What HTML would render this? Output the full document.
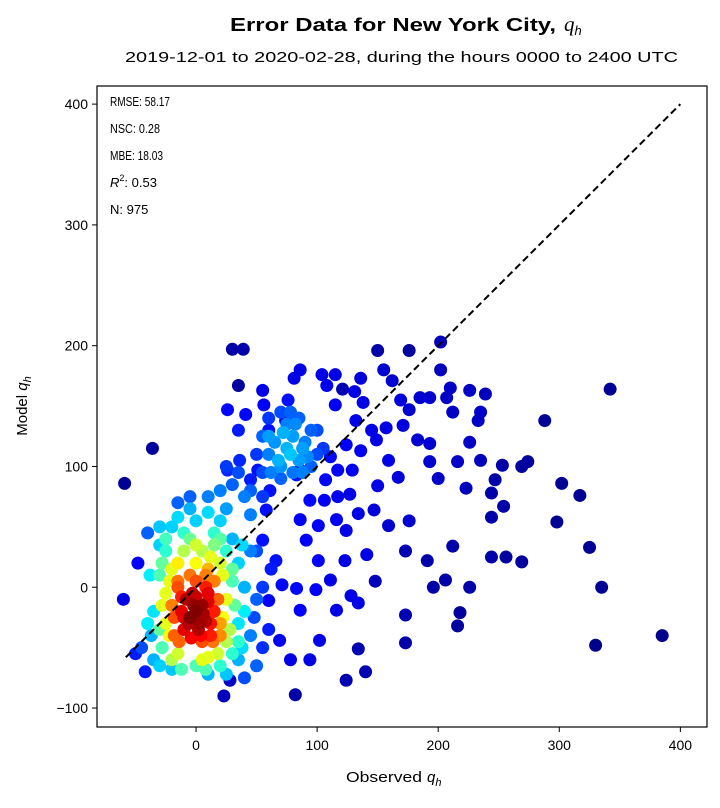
<!DOCTYPE html>
<html><head><meta charset="utf-8"><style>
body{margin:0;background:#fff;width:720px;height:803px;overflow:hidden;font-family:"Liberation Sans",sans-serif}
</style></head><body>
<svg id="chart" width="720" height="803" font-family="Liberation Sans, sans-serif">
<text x="230" y="31" font-size="18" font-weight="bold"><tspan textLength="326" lengthAdjust="spacingAndGlyphs">Error Data for New York City,</tspan><tspan dx="8" font-style="italic" font-weight="normal" font-family="Liberation Serif, serif" font-size="21">q</tspan><tspan font-style="italic" font-weight="normal" font-size="13" dy="4">h</tspan></text>
<text x="125" y="62" font-size="15" textLength="553" lengthAdjust="spacingAndGlyphs">2019-12-01 to 2020-02-28, during the hours 0000 to 2400 UTC</text>
<g id="marks"></g>
<rect x="97" y="86" width="610" height="641" fill="none" stroke="#000" stroke-width="1.2"/>
<g id="axes"></g>
<g font-size="13">
<text x="110" y="106" textLength="60" lengthAdjust="spacingAndGlyphs">RMSE: 58.17</text>
<text x="110" y="133" textLength="50" lengthAdjust="spacingAndGlyphs">NSC: 0.28</text>
<text x="110" y="160" textLength="53" lengthAdjust="spacingAndGlyphs">MBE: 18.03</text>
<text x="110" y="187"><tspan font-style="italic">R</tspan><tspan font-size="9" dy="-6">2</tspan><tspan dy="6">: 0.53</tspan></text>
<text x="110" y="214">N:  975</text>
</g>
<text x="346" y="782" font-size="15"><tspan textLength="76" lengthAdjust="spacingAndGlyphs">Observed</tspan><tspan dx="5" font-style="italic">q</tspan><tspan font-style="italic" font-size="11" dy="4">h</tspan></text>
<text transform="translate(27,406) rotate(-90)" text-anchor="middle" font-size="15">Model <tspan font-style="italic">q</tspan><tspan font-style="italic" font-size="11" dy="4">h</tspan></text>
</svg>
<script>
const xTicks=[0,100,200,300,400];
const yTicks=[-100,0,100,200,300,400];
const obsVals=[-59,-36,30,39,35,121,150,176,288,342,385,330,335,325,302,317,298,274,269,253,247,244,254,244,244,256,269,226,206,196,212,216,218,191,173,173,173,148,140,134,124,82,23,28,
202,202,210,226,239,235,233,226,216,235,223,200,193,193,183,176,162,155,169,185,193,212,207,171,157,149,132,136,115,104,86,81,108,115,138,159,150,167,147,159,176,134,127,117,129,117,111,124,136,145,131,141,124,116,123,128,116,134,111,101,91,86,101,106,94,83,107,99,86,102,94,78,69,60,71,83,66,55,58,61,51,55,56,60,76,74,41,26,35,36,26,45,86,
60,65,70,75,80,85,90,75,85,95,70,55,100,60,50,105,80,
45,40,30,20,10,-5,-15,45,50,45,50,40,-40,-45,-50,-42,-48,-60,
-35,-30,-20,0,20,35,35,35,-35,-20,10,30,-5,25,40,-37,
-30,-28,30,30,0,20,-10,15,-25,25,
-20,0,20,-25,-15,10,25,25,-25,5,-10,15,
-15,0,15,-18,5,20,-20,10,
0,-5,5,3,-8,8,-3,10,-10,12,-12,15,
-2,2,-6,6,0,-10,10,4,-4,12,-12,8,
-14,14,-18,18,-5,8,20,-15,
-22,22,-20,5,18,-22,22,0,-15,12,28,-28,
-30,32,-28,30,-12,8,-5,20,-25,35,
-40,-38,40,38,-30,25,-15,10,-30,38,
60,68,78,72,88,82,92,62,78,95,55,70,88,100,
50,55,48,55,60,62,45,35,25,55];
const modVals=[86,115,197,197,167,164,196,196,138,164,-40,-48,0,33,86,76,54,104,100,101,89,78,67,58,25,25,21,0,6,0,34,-32,-21,22,-23,-46,30,5,-70,-51,-77,-89,-90,-77,
203,180,165,163,160,145,138,120,104,105,82,90,104,119,122,147,171,180,155,157,157,145,157,134,132,122,138,173,176,176,180,173,167,151,153,105,84,91,64,51,55,61,77,75,97,97,108,118,113,130,162,27,47,56,22,-7,-19,-13,6,22,39,56,51,72,72,93,89,-2,-19,-44,-60,-60,-44,-11,2,-1,22,39,64,80,97,163,151,130,155,138,143,147,130,105,97,89,97,
110,120,100,115,125,105,120,135,140,100,90,95,130,140,110,115,95,
60,75,85,80,75,75,70,30,-10,-40,-65,-75,45,-50,-55,-70,20,-10,
-20,35,50,55,55,20,-30,-60,-60,-68,-72,40,65,65,0,-40,
10,-50,5,-55,-65,-65,45,45,30,30,
15,20,20,-30,-55,-58,-10,-45,-5,30,30,35,
0,5,5,-40,-45,-30,-15,15,
-20,-25,-15,-30,-10,-28,-5,-5,-35,-40,-20,-20,
-15,-35,-30,-22,-8,-25,-12,-40,-42,-30,-8,0,
-45,-45,-25,-10,10,10,-40,5,
-40,-25,-60,-60,-55,5,10,35,20,25,-35,-15,
-35,-15,20,15,-68,-68,40,40,40,-45,
-30,10,-20,-50,-65,-72,58,62,50,35,
125,105,110,128,115,135,108,95,145,130,125,145,95,110,
30,0,-25,-50,-35,15,80,95,100,75];
const densVals=[0.02,0.03,0.04,0.04,0.03,0.05,0.04,0.03,0.02,0.02,0.01,0.01,0.02,0.02,0.02,0.02,0.02,0.03,0.03,0.04,0.04,0.04,0.04,0.04,0.04,0.03,0.03,0.04,0.04,0.04,0.04,0.03,0.03,0.04,0.05,0.04,0.05,0.06,0.05,0.05,0.05,0.04,0.06,0.07,
0.06,0.06,0.07,0.07,0.06,0.07,0.07,0.07,0.07,0.06,0.06,0.07,0.08,0.08,0.08,0.08,0.08,0.08,0.09,0.08,0.08,0.07,0.07,0.09,0.1,0.1,0.1,0.09,0.1,0.1,0.1,0.1,0.11,0.11,0.1,0.1,0.1,0.09,0.09,0.08,0.08,0.1,0.1,0.11,0.11,0.12,0.13,0.12,0.11,0.1,0.1,0.1,0.1,0.11,0.1,0.1,0.1,0.1,0.1,0.12,0.12,0.12,0.12,0.12,0.13,0.14,0.13,0.12,0.12,0.1,0.1,0.1,0.11,0.12,0.13,0.13,0.14,0.14,0.14,0.14,0.14,0.1,0.12,0.14,0.14,0.14,0.13,0.13,0.15,0.16,0.16,0.15,0.13,
0.25,0.27,0.27,0.3,0.28,0.28,0.25,0.25,0.22,0.22,0.22,0.2,0.2,0.18,0.18,0.18,0.24,
0.25,0.25,0.22,0.25,0.25,0.22,0.22,0.25,0.22,0.25,0.22,0.2,0.22,0.2,0.15,0.15,0.12,0.1,
0.35,0.33,0.33,0.33,0.33,0.33,0.35,0.3,0.3,0.32,0.3,0.3,0.3,0.28,0.3,0.3,
0.45,0.45,0.45,0.42,0.45,0.42,0.42,0.42,0.42,0.42,
0.6,0.62,0.58,0.6,0.58,0.6,0.6,0.55,0.6,0.55,0.55,0.5,
0.8,0.8,0.75,0.78,0.8,0.72,0.75,0.7,
1,1,0.98,0.97,0.95,0.95,0.93,0.9,0.9,0.85,0.9,0.85,
0.98,0.95,0.95,0.96,0.92,0.9,0.9,0.88,0.88,0.86,0.85,0.85,
0.78,0.76,0.8,0.78,0.76,0.75,0.74,0.76,
0.62,0.62,0.55,0.6,0.58,0.6,0.6,0.58,0.64,0.6,0.55,0.6,
0.47,0.47,0.47,0.47,0.45,0.45,0.48,0.46,0.44,0.42,
0.36,0.36,0.36,0.34,0.33,0.32,0.34,0.34,0.32,0.34,
0.28,0.3,0.32,0.3,0.28,0.26,0.26,0.25,0.22,0.22,0.22,0.2,0.25,0.2,
0.2,0.18,0.2,0.17,0.15,0.15,0.22,0.2,0.18,0.18];
const NS='http://www.w3.org/2000/svg';
const L=97,R=707,T=86,B=727,xMin=-81.8,xMax=422,yMin=-115.7,yMax=415;
function xs(v){return L+(v-xMin)/(xMax-xMin)*(R-L);}
function ys(v){return B-(v-yMin)/(yMax-yMin)*(B-T);}
function jet(t){const c=x=>Math.round(255*Math.max(0,Math.min(1,x)));
return `rgb(${c(1.5-Math.abs(4*t-3))},${c(1.5-Math.abs(4*t-2))},${c(1.5-Math.abs(4*t-1))})`;}
const marks=document.getElementById('marks');
const idx=obsVals.map((_,i)=>i).sort((a,b)=>densVals[a]-densVals[b]);
idx.forEach(i=>{const c=document.createElementNS(NS,'circle');
c.setAttribute('cx',xs(obsVals[i]));c.setAttribute('cy',ys(modVals[i]));c.setAttribute('r',6.5);
c.setAttribute('fill',jet(densVals[i]));


marks.appendChild(c);});
const ln=document.createElementNS(NS,'line');
ln.setAttribute('x1',xs(-58));ln.setAttribute('y1',ys(-58));ln.setAttribute('x2',xs(400));ln.setAttribute('y2',ys(400));
ln.setAttribute('stroke','#000');ln.setAttribute('stroke-width','2');ln.setAttribute('stroke-dasharray','7,4');


marks.appendChild(ln);
const axes=document.getElementById('axes');
xTicks.forEach(v=>{const x=xs(v);
const t=document.createElementNS(NS,'line');t.setAttribute('x1',x);t.setAttribute('x2',x);t.setAttribute('y1',B);t.setAttribute('y2',B+5);t.setAttribute('stroke','#000');


axes.appendChild(t);
const tx=document.createElementNS(NS,'text');tx.setAttribute('x',x);tx.setAttribute('y',B+23);tx.setAttribute('text-anchor','middle');tx.setAttribute('font-size','14');tx.textContent=v;


axes.appendChild(tx);});
yTicks.forEach(v=>{const y=ys(v);
const t=document.createElementNS(NS,'line');t.setAttribute('x1',L-5);t.setAttribute('x2',L);t.setAttribute('y1',y);t.setAttribute('y2',y);t.setAttribute('stroke','#000');


axes.appendChild(t);
const tx=document.createElementNS(NS,'text');tx.setAttribute('x',L-9);tx.setAttribute('y',y+5);tx.setAttribute('text-anchor','end');tx.setAttribute('font-size','14');tx.textContent=v<0?'\u2212'+(-v):v;


axes.appendChild(tx);});
</script>
</body></html>
